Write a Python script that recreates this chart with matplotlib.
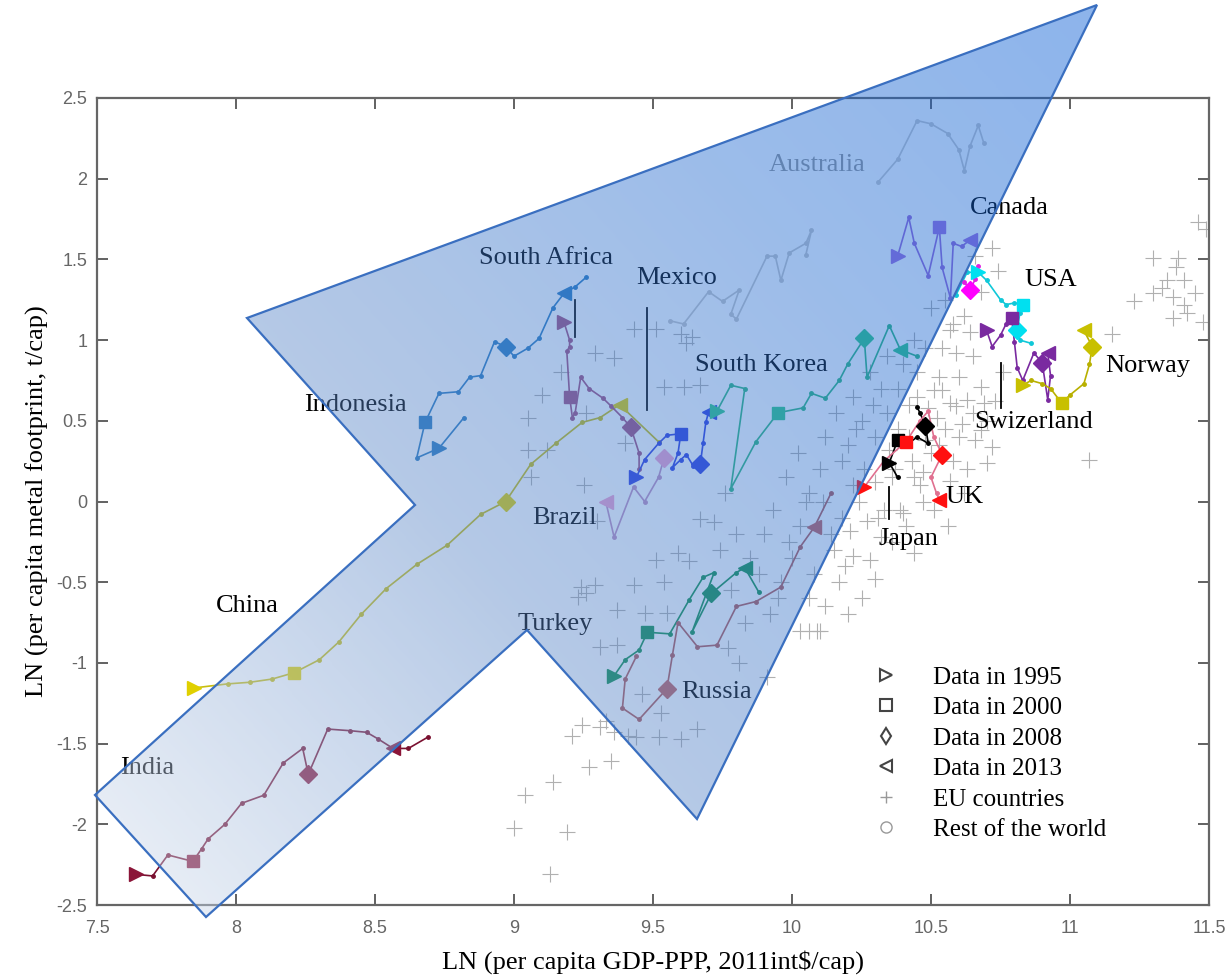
import numpy as np
import matplotlib
matplotlib.use("Agg")
import matplotlib.pyplot as plt
from matplotlib.lines import Line2D
from matplotlib.patches import Polygon
from matplotlib.colors import LinearSegmentedColormap
from matplotlib.ticker import FuncFormatter

# ---- country trajectories (ln GDP, ln metal footprint); keys = index of 1995, 2000, 2008, 2013 point
india_x = [7.64, 7.70, 7.755, 7.845, 7.877, 7.90, 7.96, 8.02, 8.10, 8.17, 8.24, 8.26, 8.33, 8.41, 8.47, 8.51, 8.565, 8.62, 8.69]
india_y = [-2.31, -2.32, -2.19, -2.23, -2.15, -2.09, -2.0, -1.87, -1.82, -1.62, -1.53, -1.69, -1.41, -1.42, -1.43, -1.47, -1.53, -1.53, -1.46]
india_keys = [0, 3, 11, 16]

china_x = [7.85, 7.97, 8.05, 8.13, 8.21, 8.30, 8.37, 8.45, 8.54, 8.65, 8.76, 8.88, 8.97, 9.06, 9.15, 9.245, 9.31, 9.38, 9.52]
china_y = [-1.155, -1.13, -1.12, -1.10, -1.06, -0.98, -0.87, -0.70, -0.54, -0.39, -0.27, -0.08, 0.0, 0.23, 0.36, 0.49, 0.52, 0.60, 0.37]
china_keys = [0, 4, 12, 17]

indonesia_x = [8.82, 8.73, 8.65, 8.68, 8.73, 8.80, 8.84, 8.88, 8.93, 8.97, 9.00, 9.05, 9.09, 9.14, 9.18, 9.22, 9.26]
indonesia_y = [0.52, 0.33, 0.27, 0.49, 0.67, 0.68, 0.77, 0.78, 0.99, 0.96, 0.90, 0.95, 1.01, 1.20, 1.29, 1.33, 1.39]
indonesia_keys = [1, 3, 9, 14]

safrica_x = [9.18, 9.20, 9.20, 9.19, 9.20, 9.21, 9.22, 9.24, 9.27, 9.32, 9.35, 9.39, 9.42, 9.45, 9.45]
safrica_y = [1.11, 1.00, 0.96, 0.93, 0.65, 0.52, 0.55, 0.77, 0.70, 0.64, 0.59, 0.52, 0.46, 0.30, 0.20]
safrica_keys = [0, 4, 12, None]

mexico_x = [9.44, 9.47, 9.52, 9.55, 9.60, 9.59, 9.57, 9.60, 9.62, 9.645, 9.67, 9.68, 9.69, 9.70]
mexico_y = [0.15, 0.26, 0.36, 0.41, 0.42, 0.30, 0.21, 0.26, 0.29, 0.22, 0.23, 0.36, 0.49, 0.555]
mexico_keys = [0, 4, 10, 13]

brazil_x = [9.33, 9.36, 9.43, 9.47, 9.52, 9.54]
brazil_y = [0.0, -0.22, 0.09, 0.00, 0.15, 0.27]
brazil_keys = [None, None, 5, 0]

korea_x = [9.73, 9.78, 9.83, 9.78, 9.87, 9.95, 10.04, 10.07, 10.12, 10.17, 10.20, 10.26, 10.27, 10.35, 10.39, 10.45]
korea_y = [0.56, 0.72, 0.70, 0.08, 0.37, 0.55, 0.58, 0.67, 0.64, 0.75, 0.85, 1.01, 0.77, 1.09, 0.94, 0.90]
korea_keys = [0, 5, 11, 14]

turkey_x = [9.36, 9.40, 9.45, 9.48, 9.56, 9.63, 9.68, 9.72, 9.64, 9.71, 9.80, 9.83, 9.88]
turkey_y = [-1.08, -0.98, -0.92, -0.81, -0.82, -0.61, -0.47, -0.44, -0.81, -0.57, -0.44, -0.41, -0.56]
turkey_keys = [0, 3, 9, 11]

russia_x = [9.44, 9.40, 9.39, 9.45, 9.55, 9.57, 9.59, 9.66, 9.73, 9.80, 9.87, 9.96, 10.03, 10.08, 10.14]
russia_y = [-0.96, -1.10, -1.28, -1.35, -1.16, -0.95, -0.75, -0.90, -0.89, -0.65, -0.62, -0.53, -0.28, -0.16, 0.05]
russia_keys = [None, None, 4, 13]

australia_x = [10.31, 10.38, 10.45, 10.50, 10.56, 10.60, 10.62, 10.64, 10.67, 10.69]
australia_y = [1.98, 2.12, 2.36, 2.34, 2.28, 2.18, 2.05, 2.20, 2.33, 2.22]
australia_keys = [None, None, None, None]

faint_x = [9.56, 9.61, 9.70, 9.75, 9.81, 9.78, 9.80, 9.91, 9.94, 9.96, 9.99, 10.05, 10.07, 10.05]
faint_y = [1.12, 1.10, 1.30, 1.24, 1.31, 1.16, 1.13, 1.52, 1.52, 1.37, 1.54, 1.60, 1.68, 1.53]
faint_keys = [None, None, None, None]

canada_x = [10.38, 10.42, 10.44, 10.49, 10.53, 10.54, 10.57, 10.58, 10.61, 10.64]
canada_y = [1.52, 1.76, 1.60, 1.40, 1.70, 1.45, 1.26, 1.60, 1.58, 1.62]
canada_keys = [0, 4, None, 9]

usa_x = [10.59, 10.63, 10.67, 10.70, 10.75, 10.77, 10.80, 10.83, 10.82, 10.81, 10.82, 10.86]
usa_y = [1.28, 1.42, 1.42, 1.37, 1.25, 1.22, 1.23, 1.22, 1.17, 1.06, 1.00, 0.98]
usa_keys = [2, 7, 9, None]

magenta_x = [10.62, 10.64, 10.66, 10.67]
magenta_y = [1.36, 1.31, 1.38, 1.46]
magenta_keys = [None, None, 1, None]

swiss_x = [10.70, 10.72, 10.75, 10.77, 10.79, 10.80, 10.81, 10.83, 10.87, 10.90, 10.92, 10.93, 10.92]
swiss_y = [1.06, 0.96, 1.03, 1.10, 1.14, 0.99, 0.83, 0.75, 0.92, 0.86, 0.63, 0.78, 0.92]
swiss_keys = [0, 4, 9, 12]

norway_x = [10.83, 10.86, 10.90, 10.93, 10.97, 11.00, 11.05, 11.07, 11.08, 11.05]
norway_y = [0.72, 0.75, 0.73, 0.70, 0.61, 0.66, 0.73, 0.85, 0.96, 1.06]
norway_keys = [0, 4, 8, 9]

japan_x = [10.38, 10.35, 10.38, 10.42, 10.45, 10.49, 10.48, 10.46, 10.45]
japan_y = [0.15, 0.24, 0.38, 0.36, 0.40, 0.36, 0.47, 0.55, 0.585]
japan_keys = [1, 2, 6, None]

uk_x = [10.26, 10.33, 10.41, 10.46, 10.49, 10.51, 10.54, 10.50, 10.52, 10.53]
uk_y = [0.09, 0.25, 0.37, 0.50, 0.56, 0.40, 0.29, 0.15, 0.05, 0.01]
uk_keys = [0, 2, 6, 9]

# ---- EU countries (grey crosses)
eu_x = [9.00, 9.04, 9.13, 9.14, 9.19, 9.27, 9.35, 9.21, 9.245, 9.31, 9.36, 9.41, 9.44, 9.33, 9.52, 9.60, 9.66,
        9.46, 9.53, 9.81, 9.91, 9.77,
        9.05, 9.05, 9.10, 9.06, 9.17, 9.29, 9.36, 9.43, 9.51, 9.60, 9.64, 9.62, 9.54, 9.61, 9.67, 9.12, 9.26, 9.40, 9.30, 9.25,
        9.24, 9.29, 9.23, 9.26, 9.37, 9.43, 9.51, 9.54, 9.59, 9.63, 9.31, 9.37, 9.47, 9.55, 9.67, 9.72, 9.76, 9.80, 9.74,
        9.85, 9.90, 9.93, 9.78, 9.83, 9.92, 9.96, 10.00, 10.03, 10.06, 9.98, 10.02, 10.10, 10.12, 10.16, 10.20, 10.22, 10.25,
        10.28, 10.32, 10.08, 10.12, 10.03, 10.10, 10.06, 10.15, 10.18, 10.22, 10.26, 10.30, 10.34, 10.38, 10.40, 10.44,
        10.17, 10.06, 10.09, 10.22, 10.21, 10.32, 10.44, 10.40, 10.51, 10.28, 10.36, 10.41, 10.47, 10.57, 10.63, 10.70,
        10.68, 10.65, 10.72, 10.54, 10.59, 10.57, 10.63, 10.69, 10.68, 10.65, 10.53, 10.60, 10.59, 10.57, 10.51, 10.72,
        10.66, 10.74, 10.68, 10.62, 10.55, 10.50, 10.48, 10.45, 10.42, 10.38, 10.35, 10.30, 10.33, 10.44, 10.50, 10.55,
        10.60, 10.62, 10.56, 10.25, 10.30, 10.20, 10.45, 10.52, 10.48,
        10.14, 10.19, 10.24, 10.27, 10.31, 10.36, 10.39, 10.43, 10.47, 10.53, 10.58, 10.61, 10.66, 10.70, 10.73, 10.76,
        10.11, 10.18, 10.23, 10.29, 10.34, 10.37, 10.42, 10.46, 10.49, 10.54, 10.58, 10.64, 9.95, 9.99, 10.05, 9.88,
        11.15, 11.07, 11.30, 11.38, 11.39, 11.46, 11.41, 11.33, 11.30, 11.23, 11.37, 11.41, 11.42, 11.37, 11.45, 11.48,
        11.49, 11.35]
eu_y = [-2.02, -1.82, -2.31, -1.74, -2.05, -1.645, -1.61, -1.45, -1.385, -1.40, -1.43, -1.45, -1.46, -1.36, -1.46, -1.47, -1.41,
        -1.19, -1.31, -1.00, -1.09, -0.91,
        0.52, 0.32, 0.66, 0.15, 0.80, 0.92, 0.89, 1.07, 1.07, 1.04, 1.02, 0.98, 0.71, 0.71, 0.72, 0.32, 0.55, 0.36, -0.12, 0.10,
        -0.53, -0.52, -0.59, -0.57, -0.67, -0.52, -0.36, -0.50, -0.32, -0.37, -0.90, -0.89, -0.69, -0.69, -0.11, -0.13, 0.05, -0.20, -0.30,
        -0.35, -0.20, -0.05, -0.55, -0.75, -0.70, -0.50, -0.35, -0.15, 0.05, 0.15, 0.30, 0.20, 0.40, 0.55, 0.35, 0.65, 0.50,
        0.80, 0.70, -0.45, -0.65, -0.80, -0.80, -0.60, -0.30, -0.10, 0.10, 0.20, 0.40, 0.55, 0.70, 0.85, 1.00,
        -0.50, -0.80, -0.80, -0.34, -0.18, -0.22, -0.32, -0.07, -0.05, -0.36, -0.25, -0.15, 0.00, 0.13, 0.20, 0.24,
        0.44, 0.55, 0.34, 0.69, 0.59, 0.61, 0.63, 0.61, 0.71, 0.90, 0.77, 0.77, 0.92, 1.06, 0.69, 1.57,
        1.52, 1.43, 1.30, 1.15, 1.25, 1.20, 0.95, 0.80, 0.60, 0.45, 0.32, 0.12, -0.05, 0.15, 0.30, 0.45,
        0.40, 0.05, -0.15, -0.60, -0.48, -0.70, 0.65, 0.52, 0.38,
        -0.20, -0.40, 0.00, -0.12, -0.10, 0.15, -0.05, 0.25, 0.18, 0.35, 0.25, 0.48, 0.38, 0.50, 0.62, 0.80,
        0.00, 0.25, 0.45, 0.60, 0.90, 0.20, 0.40, 0.10, 0.58, 0.95, 1.10, 1.05, -0.60, -0.25, 0.00, -0.45,
        1.04, 0.26, 1.51, 1.45, 1.51, 1.73, 1.37, 1.32, 1.29, 1.24, 1.27, 1.22, 1.17, 1.14, 1.29, 1.11,
        1.69, 1.37]

series = [
    (india_x, india_y, india_keys, '#7a1030', '#8b1538'),
    (china_x, china_y, china_keys, '#c8be10', '#e0d000'),
    (indonesia_x, indonesia_y, indonesia_keys, '#2a7bc0', '#2a7bc0'),
    (safrica_x, safrica_y, safrica_keys, '#a05080', '#a05080'),
    (mexico_x, mexico_y, mexico_keys, '#3040e0', '#3040e0'),
    (brazil_x, brazil_y, brazil_keys, '#c090c0', '#f0a0d0'),
    (korea_x, korea_y, korea_keys, '#30b880', '#30c888'),
    (turkey_x, turkey_y, turkey_keys, '#109050', '#109050'),
    (russia_x, russia_y, russia_keys, '#b05858', '#c06060'),
    (australia_x, australia_y, australia_keys, '#cccccc', '#cccccc'),
    (faint_x, faint_y, faint_keys, '#c8c8c8', '#c8c8c8'),
    (canada_x, canada_y, canada_keys, '#9a6ad8', '#a070e0'),
    (usa_x, usa_y, usa_keys, '#10c8d8', '#00e0f0'),
    (magenta_x, magenta_y, magenta_keys, '#e020e0', '#ff00ff'),
    (swiss_x, swiss_y, swiss_keys, '#7a2aa0', '#7a2aa0'),
    (norway_x, norway_y, norway_keys, '#b8b000', '#c8c000'),
    (japan_x, japan_y, japan_keys, '#000000', '#000000'),
    (uk_x, uk_y, uk_keys, '#e07090', '#ff1010'),
]
year_markers = ['>', 's', 'D', '<']
year_sizes = [10, 9, 9, 10]

labels = [('Australia', 10.09, 2.085, '#999999'), ('Canada', 10.78, 1.82, 'k'), ('South Africa', 9.115, 1.51, 'k'),
          ('Mexico', 9.586, 1.385, 'k'), ('USA', 10.93, 1.37, 'k'), ('Indonesia', 8.43, 0.60, 'k'),
          ('South Korea', 9.89, 0.845, 'k'), ('Norway', 11.28, 0.84, 'k'), ('Swizerland', 10.87, 0.49, 'k'),
          ('Brazil', 9.18, -0.10, 'k'), ('UK', 10.62, 0.03, 'k'), ('Japan', 10.42, -0.23, 'k'),
          ('China', 8.04, -0.65, 'k'), ('Turkey', 9.15, -0.76, 'k'), ('Russia', 9.73, -1.18, 'k'),
          ('India', 7.68, -1.65, 'k')]
leader_lines = [(9.22, 1.25, 1.02), (9.48, 1.20, 0.57), (10.75, 0.86, 0.58), (10.35, 0.09, -0.11)]

# decorative arrow overlay, figure pixels (top-left origin)
W, H = 1230, 977
arrow_px = [(1097, 5), (247, 318), (415, 505), (95, 795), (206, 917), (527, 630), (697, 819)]

plt.rcParams['font.family'] = 'Liberation Serif'
plt.rcParams['axes.unicode_minus'] = False

fig = plt.figure(figsize=(W / 100, H / 100), dpi=100)
ax = fig.add_axes([97 / W, 1 - 905 / H, 1112 / W, 807 / H])

ax.plot(eu_x, eu_y, ls='none', marker='+', ms=11, mew=0.8, color='#b0b0b0', zorder=1)

for xs, ys, keys, lc, mc in series:
    ax.plot(xs, ys, '-', color=lc, lw=1.2, marker='o', ms=2.5, zorder=2)
    for k, m, s in zip(keys, year_markers, year_sizes):
        if k is not None:
            ax.plot(xs[k], ys[k], ls='none', marker=m, ms=s, color=mc, mec=mc, zorder=3)

for lx, y0, y1 in leader_lines:
    ax.plot([lx, lx], [y0, y1], color='k', lw=1.3, zorder=3)

for txt, tx, ty, c in labels:
    ax.text(tx, ty, txt, fontsize=19, color=c, ha='center', va='center', zorder=4)

ax.set_xlim(7.5, 11.5)
ax.set_ylim(-2.5, 2.5)
ax.set_xticks(np.arange(7.5, 11.51, 0.5))
ax.set_yticks(np.arange(-2.5, 2.51, 0.5))
fmt = FuncFormatter(lambda v, p: '%g' % v)
ax.xaxis.set_major_formatter(fmt)
ax.yaxis.set_major_formatter(fmt)
ax.tick_params(direction='in', length=8, width=1.3, top=True, right=True, color='#555555',
               labelcolor='#666666', labelsize=13)
ax.tick_params(axis='x', pad=11)
ax.tick_params(axis='y', pad=7)
for lab in ax.get_xticklabels() + ax.get_yticklabels():
    lab.set_family('Liberation Sans')
for sp in ax.spines.values():
    sp.set_color('#666666')
    sp.set_linewidth(1.6)

ax.set_xlabel('LN (per capita GDP-PPP, 2011int\\$/cap)', fontsize=19, labelpad=9)
ax.set_ylabel('LN (per capita metal footprint, t/cap)', fontsize=19, labelpad=5)

handles = [
    Line2D([], [], ls='none', marker='>', mfc='none', mec='#444444', ms=8, mew=1.5),
    Line2D([], [], ls='none', marker='s', mfc='none', mec='#444444', ms=8, mew=1.5),
    Line2D([], [], ls='none', marker='d', mfc='none', mec='#444444', ms=8, mew=1.5),
    Line2D([], [], ls='none', marker='<', mfc='none', mec='#444444', ms=8, mew=1.5),
    Line2D([], [], ls='none', marker='+', color='#999999', ms=9, mew=1.0),
    Line2D([], [], ls='none', marker='o', mfc='none', mec='#999999', ms=8, mew=1.0),
]
leg_labels = ['Data in 1995', 'Data in 2000', 'Data in 2008', 'Data in 2013', 'EU countries', 'Rest of the world']
ax.legend(handles, leg_labels, loc='upper left', bbox_to_anchor=(0.698, 0.296), frameon=False,
          fontsize=18, handlelength=1.0, handletextpad=1.4, labelspacing=0.32, borderpad=0, borderaxespad=0)

# gradient arrow on top
ov = fig.add_axes([0, 0, 1, 1], zorder=10)
ov.patch.set_alpha(0)
ov.axis('off')
yy, xx = np.mgrid[0:H:2, 0:W:2]
p0 = np.array([150.0, 856.0])
d = np.array([1097.0, 5.0]) - p0
t = np.clip(((xx - p0[0]) * d[0] + (yy - p0[1]) * d[1]) / (d @ d), 0, 1)
cmap = LinearSegmentedColormap.from_list('arrow', [(0, (199/255, 213/255, 233/255)), (0.35, (88/255, 133/255, 199/255)),
                                                   (0.7, (33/255, 106/255, 208/255)), (1, (0/255, 88/255, 213/255))])
rgba = cmap(t)
rgba[..., 3] = 0.45
im = ov.imshow(rgba, extent=(0, W, H, 0), interpolation='bilinear', aspect='auto')
ov.set_xlim(0, W)
ov.set_ylim(H, 0)
clip = Polygon(arrow_px, closed=True, transform=ov.transData, facecolor='none', edgecolor='none')
ov.add_patch(clip)
im.set_clip_path(clip)
ov.add_patch(Polygon(arrow_px, closed=True, facecolor='none', edgecolor='#3a6fc0', lw=1.6))

fig.savefig('out.png', dpi=100)
